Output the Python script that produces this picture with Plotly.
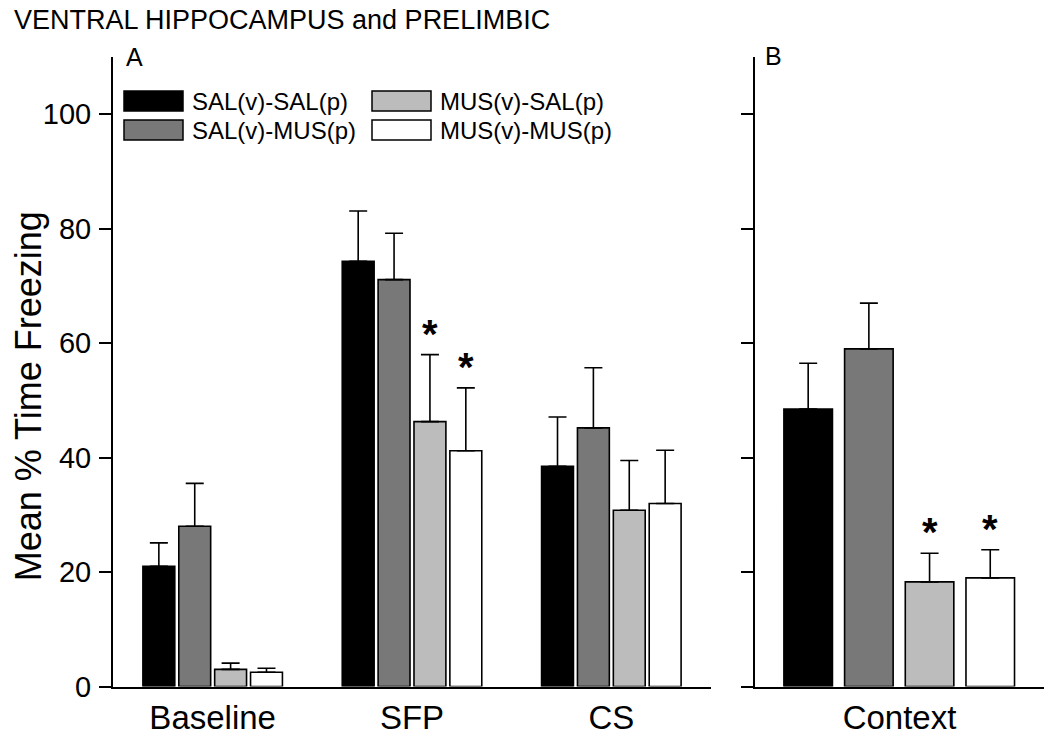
import plotly.graph_objects as go

W, H = 1050, 736
K = 1.036  # vertical compensation observed in the rendered screenshot

# ---- data ----
groups = ["SAL(v)-SAL(p)", "SAL(v)-MUS(p)", "MUS(v)-SAL(p)", "MUS(v)-MUS(p)"]
phases_a = ["Baseline", "SFP", "CS"]
phases_b = ["Context"]

mean_a = {
    "SAL(v)-SAL(p)": [21.0, 74.3, 38.5],
    "SAL(v)-MUS(p)": [28.0, 71.1, 45.2],
    "MUS(v)-SAL(p)": [3.0, 46.3, 30.8],
    "MUS(v)-MUS(p)": [2.5, 41.2, 32.0],
}
sem_a = {
    "SAL(v)-SAL(p)": [4.1, 8.8, 8.6],
    "SAL(v)-MUS(p)": [7.5, 8.1, 10.5],
    "MUS(v)-SAL(p)": [1.1, 11.7, 8.7],
    "MUS(v)-MUS(p)": [0.7, 11.0, 9.3],
}
mean_b = {
    "SAL(v)-SAL(p)": [48.5],
    "SAL(v)-MUS(p)": [59.0],
    "MUS(v)-SAL(p)": [18.3],
    "MUS(v)-MUS(p)": [19.0],
}
sem_b = {
    "SAL(v)-SAL(p)": [8.0],
    "SAL(v)-MUS(p)": [8.0],
    "MUS(v)-SAL(p)": [5.0],
    "MUS(v)-MUS(p)": [4.9],
}
# significance markers: (panel, phase, group)
stars = [("a", "SFP", "MUS(v)-SAL(p)"), ("a", "SFP", "MUS(v)-MUS(p)"),
         ("b", "Context", "MUS(v)-SAL(p)"), ("b", "Context", "MUS(v)-MUS(p)")]

y_ticks = [0, 20, 40, 60, 80, 100]

# ---- styles ----
fills = {"SAL(v)-SAL(p)": "#000000", "SAL(v)-MUS(p)": "#787878",
         "MUS(v)-SAL(p)": "#bcbcbc", "MUS(v)-MUS(p)": "#ffffff"}
FONT = "Liberation Sans, Arial, sans-serif"

def px_x(p):
    return p / W

def px_y(p):
    return 1 - p * K / H

fig = go.Figure()

wa, pa, oa = 0.16, 0.18, -0.35
wb, pb, ob = 0.168, 0.21, -0.40

for i, g in enumerate(groups):
    fig.add_trace(go.Bar(
        x=phases_a, y=mean_a[g], name=g, xaxis="x", yaxis="y",
        width=wa, offset=oa + i * pa,
        marker=dict(color=fills[g], line=dict(color="black", width=1.6)),
        error_y=dict(type="data", array=sem_a[g], arrayminus=[0] * len(phases_a),
                     symmetric=False, color="black", thickness=1.6, width=9),
        showlegend=False,
    ))
    fig.add_trace(go.Bar(
        x=phases_b, y=mean_b[g], name=g, xaxis="x2", yaxis="y2",
        width=wb, offset=ob + i * pb,
        marker=dict(color=fills[g], line=dict(color="black", width=1.6)),
        error_y=dict(type="data", array=sem_b[g], arrayminus=[0],
                     symmetric=False, color="black", thickness=1.6, width=9),
        showlegend=False,
    ))

ann = []
# asterisks
for panel, ph, g in stars:
    i = groups.index(g)
    if panel == "a":
        j = phases_a.index(ph)
        xv = j + oa + i * pa + wa / 2
        yv = mean_a[g][j] + sem_a[g][j]
        xr, yr = "x", "y"
    else:
        j = phases_b.index(ph)
        xv = j + ob + i * pb + wb / 2
        yv = mean_b[g][j] + sem_b[g][j]
        xr, yr = "x2", "y2"
    ann.append(dict(x=xv, y=yv, xref=xr, yref=yr, text="<b>*</b>", showarrow=False,
                    font=dict(family=FONT, size=40, color="black"),
                    yanchor="bottom", xanchor="center", yshift=-3))

# title, panel letters, y title
ann.append(dict(x=px_x(12), y=px_y(20), xref="paper", yref="paper",
                text="VENTRAL HIPPOCAMPUS and PRELIMBIC", showarrow=False,
                xanchor="left", yanchor="middle",
                font=dict(family=FONT, size=27, color="black")))
ann.append(dict(x=px_x(124), y=px_y(57), xref="paper", yref="paper", text="A",
                showarrow=False, xanchor="left", yanchor="middle",
                font=dict(family=FONT, size=25, color="black")))
ann.append(dict(x=px_x(763), y=px_y(56), xref="paper", yref="paper", text="B",
                showarrow=False, xanchor="left", yanchor="middle",
                font=dict(family=FONT, size=25, color="black")))
ann.append(dict(x=px_x(28), y=px_y(396), xref="paper", yref="paper",
                text="Mean % Time Freezing", textangle=-90, showarrow=False,
                xanchor="center", yanchor="middle",
                font=dict(family=FONT, size=36, color="black")))

# custom legend (wide swatches, two columns)
shapes = []
leg_pos = {
    "SAL(v)-SAL(p)": (124, 91),
    "SAL(v)-MUS(p)": (124, 120),
    "MUS(v)-SAL(p)": (372, 91),
    "MUS(v)-MUS(p)": (372, 120),
}
for g in groups:
    lx, ly = leg_pos[g]
    shapes.append(dict(type="rect", xref="paper", yref="paper",
                       x0=px_x(lx), x1=px_x(lx + 59), y0=px_y(ly), y1=px_y(ly + 20),
                       fillcolor=fills[g], line=dict(color="black", width=1.5)))
    ann.append(dict(x=px_x(lx + 66), y=px_y(ly + 10), xref="paper", yref="paper",
                    text=g, showarrow=False, xanchor="left", yanchor="middle",
                    font=dict(family=FONT, size=24, color="black")))

yax_common = dict(range=[0, 110], tickvals=y_ticks, ticks="outside", ticklen=12,
                  tickwidth=1.8, tickcolor="black", showline=True, linecolor="black",
                  linewidth=2, showgrid=False, zeroline=False,
                  domain=[px_y(686), px_y(57)])
xax_common = dict(type="category", showline=True, linecolor="black", linewidth=2,
                  showgrid=False, zeroline=False, ticks="", ticklabelstandoff=1,
                  tickfont=dict(family=FONT, size=33, color="black"))

fig.update_layout(
    width=W, height=H,
    margin=dict(l=0, r=0, t=0, b=0),
    paper_bgcolor="white", plot_bgcolor="white",
    barmode="overlay",
    xaxis=dict(**xax_common, domain=[px_x(113), px_x(711)], range=[-0.5, 2.5],
               anchor="y"),
    xaxis2=dict(**xax_common, domain=[px_x(755), px_x(1044)], range=[-0.5, 0.5],
                anchor="y2"),
    yaxis=dict(**yax_common, anchor="x", showticklabels=True, ticklabelstandoff=2,
               tickfont=dict(family=FONT, size=29, color="black")),
    yaxis2=dict(**yax_common, anchor="x2", showticklabels=False),
    annotations=ann,
    shapes=shapes,
    font=dict(family=FONT, color="black"),
)

page_fix = "document.body.style.margin='0';"
fig.write_html("out.html", config={"displayModeBar": False}, post_script=page_fix)
